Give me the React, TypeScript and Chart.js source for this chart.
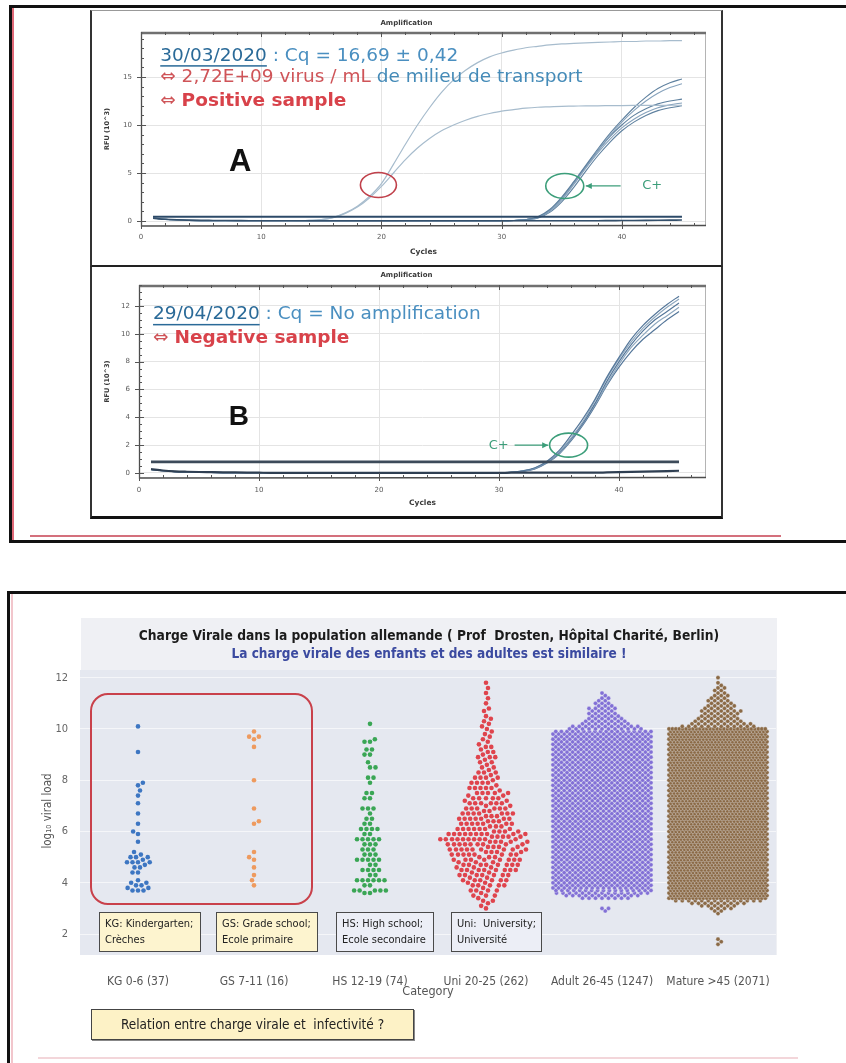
import React, { useEffect, useRef } from 'react';
import { Chart, registerables } from 'chart.js';

Chart.register(...registerables);

// ---------------- Amplification panels (RFU x10^3 by cycle) ----------------
const CYCLES = Array.from({ length: 45 }, (_, i) => i + 1);

const A_SAMPLE_HI = [0.30, 0.18, 0.10, 0.06, 0.04, 0.03, 0.02, 0.02, 0.01, 0.01, 0.01, 0.02, 0.03, 0.06, 0.15, 0.38, 0.85, 1.55, 2.55, 3.9, 5.9, 8.0, 10.0, 11.8, 13.4, 14.7, 15.7, 16.5, 17.1, 17.5, 17.8, 18.05, 18.2, 18.35, 18.45, 18.5, 18.55, 18.6, 18.65, 18.7, 18.7, 18.75, 18.75, 18.8, 18.8];
const A_SAMPLE_LO = [0.30, 0.18, 0.10, 0.06, 0.04, 0.03, 0.02, 0.02, 0.01, 0.01, 0.01, 0.02, 0.03, 0.06, 0.15, 0.36, 0.8, 1.45, 2.4, 3.6, 5.0, 6.4, 7.6, 8.6, 9.4, 10.0, 10.5, 10.9, 11.2, 11.45, 11.6, 11.75, 11.85, 11.9, 11.95, 11.97, 12.0, 12.0, 12.02, 12.03, 12.04, 12.05, 12.05, 12.06, 12.06];
const A_CPOS_BASE = [0.30, 0.18, 0.10, 0.06, 0.04, 0.03, 0.02, 0.02, 0.02, 0.02, 0.02, 0.02, 0.02, 0.02, 0.02, 0.02, 0.02, 0.02, 0.02, 0.02, 0.02, 0.02, 0.02, 0.02, 0.02, 0.02, 0.02, 0.02, 0.02, 0.02, 0.05, 0.15];
const A_CPOS_RISE_1 = [0.45, 1.2, 2.5, 4.1, 5.8, 7.5, 9.1, 10.5, 11.8, 12.9, 13.8, 14.4, 14.8];
const A_CPOS_RISE_2 = [0.4, 1.1, 2.3, 3.9, 5.6, 7.3, 8.9, 10.3, 11.5, 12.5, 13.3, 13.9, 14.3];
const A_CPOS_RISE_3 = [0.4, 1.1, 2.4, 4.0, 5.7, 7.3, 8.8, 10.0, 11.0, 11.7, 12.2, 12.5, 12.7];
const A_CPOS_RISE_4 = [0.35, 1.0, 2.2, 3.8, 5.5, 7.1, 8.5, 9.7, 10.6, 11.3, 11.8, 12.1, 12.3];
const A_CPOS_RISE_5 = [0.3, 0.9, 2.0, 3.5, 5.2, 6.8, 8.2, 9.4, 10.3, 11.0, 11.5, 11.8, 12.0];
const A_NEG = [0.28, 0.18, 0.12, 0.09, 0.07, 0.06, 0.05, 0.04, 0.03, 0.03, 0.03, 0.03, 0.03, 0.03, 0.03, 0.03, 0.03, 0.03, 0.03, 0.03, 0.03, 0.03, 0.03, 0.03, 0.03, 0.03, 0.03, 0.03, 0.03, 0.03, 0.03, 0.03, 0.03, 0.03, 0.03, 0.03, 0.03, 0.03, 0.04, 0.05, 0.06, 0.07, 0.08, 0.09, 0.1];
const A_THRESHOLD = 0.45;

const B_NEG = [0.28, 0.18, 0.12, 0.09, 0.07, 0.06, 0.05, 0.04, 0.03, 0.02, 0.01, 0.01, 0.01, 0.01, 0.01, 0.01, 0.01, 0.01, 0.01, 0.01, 0.01, 0.01, 0.01, 0.01, 0.01, 0.01, 0.01, 0.01, 0.01, 0.01, 0.02, 0.02, 0.02, 0.02, 0.02, 0.02, 0.02, 0.02, 0.04, 0.06, 0.08, 0.10, 0.12, 0.14, 0.16];
const B_CPOS_BASE = [0.25, 0.16, 0.10, 0.07, 0.05, 0.04, 0.03, 0.02, 0.02, 0.02, 0.01, 0.01, 0.01, 0.01, 0.01, 0.01, 0.01, 0.01, 0.01, 0.01, 0.01, 0.01, 0.01, 0.01, 0.01, 0.01, 0.01, 0.01, 0.01, 0.01];
const B_CPOS_RISE_1 = [0.05, 0.16, 0.38, 0.85, 1.6, 2.7, 3.9, 5.3, 6.9, 8.3, 9.6, 10.6, 11.4, 12.1, 12.7];
const B_CPOS_RISE_2 = [0.05, 0.15, 0.35, 0.8, 1.5, 2.5, 3.7, 5.2, 6.8, 8.2, 9.4, 10.4, 11.2, 11.9, 12.5];
const B_CPOS_RISE_3 = [0.05, 0.14, 0.33, 0.78, 1.45, 2.45, 3.6, 5.0, 6.6, 8.0, 9.2, 10.2, 11.0, 11.6, 12.2];
const B_CPOS_RISE_4 = [0.04, 0.13, 0.32, 0.75, 1.4, 2.4, 3.55, 4.9, 6.4, 7.8, 9.0, 9.9, 10.7, 11.3, 11.9];
const B_CPOS_RISE_5 = [0.04, 0.12, 0.3, 0.72, 1.35, 2.3, 3.45, 4.8, 6.3, 7.6, 8.7, 9.6, 10.3, 11.0, 11.6];
const B_THRESHOLD = 0.8;

const AMP_X_TICKS = [0, 10, 20, 30, 40];
const A_Y_TICKS = [0, 5, 10, 15];
const B_Y_TICKS = [0, 2, 4, 6, 8, 10, 12];

// ---------------- Viral load swarm (log10 viral load, [value, count]) ----------------
const SWARM_CATEGORIES = ['KG 0-6 (37)', 'GS 7-11 (16)', 'HS 12-19 (74)', 'Uni 20-25 (262)', 'Adult 26-45 (1247)', 'Mature >45 (2071)'];
const SWARM_Y_TICKS = [2, 4, 6, 8, 10, 12];

const KG_LOADS: [number, number][] = [[10.1, 1], [9.1, 1], [7.9, 1], [7.8, 1], [7.6, 1], [7.4, 1], [7.1, 1], [6.7, 1], [6.3, 1], [6.0, 1], [5.9, 1], [5.6, 1], [5.2, 1], [5.1, 1], [5.0, 3], [4.9, 1], [4.8, 4], [4.7, 1], [4.6, 2], [4.4, 2], [4.1, 1], [4.0, 2], [3.9, 2], [3.8, 2], [3.7, 3]];
const GS_LOADS: [number, number][] = [[9.9, 1], [9.7, 2], [9.6, 1], [9.3, 1], [8.0, 1], [6.9, 1], [6.4, 1], [6.3, 1], [5.2, 1], [5.0, 1], [4.9, 1], [4.6, 1], [4.3, 1], [4.1, 1], [3.9, 1]];
const HS_LOADS: [number, number][] = [[10.2, 1], [9.6, 1], [9.5, 2], [9.2, 2], [9.0, 2], [8.7, 1], [8.5, 2], [8.1, 2], [7.9, 1], [7.5, 2], [7.3, 2], [6.9, 3], [6.7, 1], [6.5, 2], [6.3, 2], [6.1, 4], [5.9, 2], [5.7, 5], [5.5, 3], [5.3, 3], [5.1, 3], [4.9, 5], [4.7, 2], [4.5, 4], [4.3, 2], [4.1, 6], [3.9, 2], [3.7, 5], [3.6, 2]];
const UNI_LOADS: [number, number][] = [[3.0, 1], [3.1, 1], [3.2, 1], [3.3, 2], [3.4, 1], [3.5, 3], [3.6, 1], [3.7, 4], [3.8, 1], [3.9, 5], [4.0, 2], [4.1, 6], [4.2, 2], [4.3, 7], [4.4, 2], [4.5, 8], [4.6, 3], [4.7, 8], [4.8, 3], [4.9, 8], [5.0, 3], [5.1, 8], [5.2, 4], [5.3, 9], [5.4, 4], [5.5, 9], [5.6, 5], [5.7, 10], [5.8, 5], [5.9, 10], [6.0, 4], [6.1, 7], [6.2, 3], [6.3, 7], [6.4, 3], [6.5, 7], [6.6, 3], [6.7, 7], [6.8, 2], [6.9, 6], [7.0, 2], [7.1, 6], [7.2, 2], [7.3, 5], [7.4, 2], [7.5, 5], [7.6, 1], [7.7, 5], [7.8, 1], [7.9, 4], [8.0, 1], [8.1, 4], [8.2, 1], [8.3, 3], [8.4, 1], [8.5, 2], [8.6, 1], [8.7, 2], [8.8, 1], [8.9, 3], [9.0, 1], [9.1, 2], [9.2, 1], [9.3, 2], [9.4, 1], [9.5, 1], [9.6, 1], [9.7, 1], [9.8, 1], [9.9, 1], [10.0, 1], [10.1, 1], [10.2, 1], [10.3, 1], [10.4, 1], [10.5, 1], [10.7, 1], [10.8, 1], [11.0, 1], [11.2, 1], [11.4, 1], [11.6, 1], [11.8, 1]];
// dense groups: counts per 0.1 level starting at *_FROM
const ADULT_FROM = 2.9;
const ADULT_COUNTS = [
  1, 2, 0, 0, 0, 8, 12, 15, 17,
  18, 18, 18, 18, 18, 18, 18, 18, 18, 18,
  18, 18, 18, 18, 18, 18, 18, 18, 18, 18,
  18, 18, 18, 18, 18, 18, 18, 18, 18, 18,
  18, 18, 18, 18, 18, 18, 18, 18, 18, 18,
  18, 18, 18, 18, 18, 18, 18, 18, 18, 18,
  18, 18, 18, 18, 18, 18, 18, 18, 18, 18,
  18, 18,
  12, 11, 8, 7, 6, 5, 5, 4, 5, 3, 3, 2, 2, 1, 1,
];
const MATURE_FROM = 1.6;
const MATURE_COUNTS = [
  1, 1, 1, 0, 0, 0, 0, 0, 0, 0, 0, 0,
  1, 2, 4, 6, 9, 14,
  29, 29, 29, 29, 29, 29, 29, 29, 29, 29, 29, 29, 29, 29, 29, 29, 29, 29, 29, 29,
  29, 29, 29, 29, 29, 29, 29, 29, 29, 29, 29, 29, 29, 29, 29, 29, 29, 29, 29, 29,
  29, 29, 29, 29, 29, 29, 29, 29, 29, 29, 29, 29, 29, 29, 29, 29, 29, 29, 29, 29,
  29, 29, 29, 29, 29, 29, 29,
  12, 10, 8, 7, 6, 6, 7, 5, 5, 4, 4, 3, 3, 2, 2, 2, 1, 1, 0, 1,
];
const SWARM_COLORS = ['#3d76c2', '#ee9a5e', '#3aa655', '#df444d', '#8270d6', '#8b6a46'];

// swarm geometry (pixels)
const SWARM_PX_PER_CAT = 116;
const SWARM_PX_PER_UNIT = 25.64;
const SWARM_DOT_PX = 5.5;
const SWARM_STEP_PX = 6.5;
const SWARM_HALF_PX = 49;

const NARROW = '"Liberation Sans Narrow", "DejaVu Sans Condensed", "Arial Narrow", sans-serif';
const DEJAVU = '"DejaVu Sans", Verdana, sans-serif';

function expandCounts(from: number, counts: number[]): [number, number][] {
  return counts.map((n, i) => [Math.round(from * 10 + i) / 10, n] as [number, number]);
}

// collision beeswarm for the sparse groups
function beeswarm(rows: [number, number][], cat: number) {
  const vals: number[] = [];
  for (const [v, n] of rows) for (let i = 0; i < n; i++) vals.push(v);
  vals.sort((a, b) => a - b);
  const placed: { x: number; y: number }[] = [];
  const d = SWARM_DOT_PX;
  for (const v of vals) {
    const yp = v * SWARM_PX_PER_UNIT;
    const iv: [number, number][] = [];
    for (let j = placed.length - 1; j >= 0; j--) {
      const dy = yp - placed[j].y;
      if (dy >= d) break;
      const dx = Math.sqrt(d * d - dy * dy);
      iv.push([placed[j].x - dx, placed[j].x + dx]);
    }
    const cands = [0];
    for (const [a, b] of iv) cands.push(a, b);
    const preferPos = placed.length % 2 === 0;
    cands.sort((p, q) => {
      const diff = Math.abs(p) - Math.abs(q);
      if (Math.abs(diff) > 1e-6) return diff;
      return preferPos ? q - p : p - q;
    });
    let xp = 0;
    for (const c of cands) {
      if (iv.every(([a, b]) => !(c > a + 1e-6 && c < b - 1e-6))) { xp = c; break; }
    }
    placed.push({ x: xp, y: yp });
  }
  return placed.map((p) => ({
    x: cat + Math.max(-SWARM_HALF_PX, Math.min(SWARM_HALF_PX, p.x)) / SWARM_PX_PER_CAT,
    y: p.y / SWARM_PX_PER_UNIT,
  }));
}

// packed rows for the saturated groups
function packedRows(rows: [number, number][], cat: number) {
  const pts: { x: number; y: number }[] = [];
  for (const [v, n] of rows) {
    if (!n) continue;
    const odd = Math.round(v * 10) % 2 !== 0;
    let offs: number[] = [];
    if (odd) {
      for (let k = 0; offs.length < n; k++) {
        offs.push((k + 0.5) * SWARM_STEP_PX);
        if (offs.length < n) offs.push(-(k + 0.5) * SWARM_STEP_PX);
      }
    } else {
      offs.push(0);
      for (let k = 1; offs.length < n; k++) {
        offs.push(k * SWARM_STEP_PX);
        if (offs.length < n) offs.push(-k * SWARM_STEP_PX);
      }
    }
    const ext = Math.max(...offs.map(Math.abs));
    if (ext > SWARM_HALF_PX) {
      const step = (2 * SWARM_HALF_PX) / (n - 0.5);
      offs = [];
      for (let i = 0; i < n; i++) offs.push(-SWARM_HALF_PX + (i + (odd ? 0.5 : 0)) * step);
    }
    for (const o of offs) pts.push({ x: cat + o / SWARM_PX_PER_CAT, y: v });
  }
  return pts;
}

type Seg = { text: string; color: string; bold?: boolean; underline?: boolean };

function drawSegs(ctx: CanvasRenderingContext2D, x: number, y: number, size: number, segs: Seg[]) {
  let cx = x;
  ctx.textAlign = 'left';
  ctx.textBaseline = 'middle';
  for (const s of segs) {
    ctx.font = `${s.bold ? 'bold ' : ''}${size}px ${DEJAVU}`;
    ctx.fillStyle = s.color;
    ctx.fillText(s.text, cx, y);
    const w = ctx.measureText(s.text).width;
    if (s.underline) ctx.fillRect(cx, y + size * 0.5, w, 1.5);
    cx += w;
  }
}

function ellipse(ctx: CanvasRenderingContext2D, cx: number, cy: number, rx: number, ry: number, color: string) {
  ctx.beginPath();
  ctx.ellipse(cx, cy, rx, ry, 0, 0, Math.PI * 2);
  ctx.strokeStyle = color;
  ctx.lineWidth = 1.6;
  ctx.stroke();
}

function arrow(ctx: CanvasRenderingContext2D, x1: number, y1: number, x2: number, y2: number, color: string) {
  ctx.strokeStyle = color;
  ctx.fillStyle = color;
  ctx.lineWidth = 1.2;
  ctx.beginPath();
  ctx.moveTo(x1, y1);
  ctx.lineTo(x2, y2);
  ctx.stroke();
  const dir = Math.sign(x2 - x1);
  ctx.beginPath();
  ctx.moveTo(x2, y2);
  ctx.lineTo(x2 - dir * 6, y2 - 3);
  ctx.lineTo(x2 - dir * 6, y2 + 3);
  ctx.closePath();
  ctx.fill();
}

function lineDs(values: number[], color: string, width: number) {
  return {
    data: CYCLES.map((c, i) => ({ x: c, y: values[i] })),
    borderColor: color,
    borderWidth: width,
    pointRadius: 0,
    cubicInterpolationMode: 'monotone',
    fill: false,
  };
}

function thresholdDs(value: number, color: string, width: number) {
  return {
    data: [{ x: CYCLES[0], y: value }, { x: CYCLES[CYCLES.length - 1], y: value }],
    borderColor: color,
    borderWidth: width,
    pointRadius: 0,
    fill: false,
  };
}

type AmpSpec = {
  datasets: any[];
  xMax: number;
  yMin: number;
  yMax: number;
  yTicks: number[];
  yMinor: number;
  padTop: number;
  yWidth: number;
  titleY: number;
  xTickPad: number;
  xTitlePad: number;
  annotate: (ctx: CanvasRenderingContext2D, x: any, y: any) => void;
};

function makeAmpChart(canvas: HTMLCanvasElement, spec: AmpSpec) {
  const framePlugin = {
    id: 'ampFrame',
    afterDatasetsDraw(chart: any) {
      const { ctx, chartArea: a, scales } = chart;
      const x = scales.x;
      const y = scales.y;
      ctx.save();
      ctx.strokeStyle = '#b4b4b4';
      ctx.lineWidth = 1;
      ctx.beginPath();
      ctx.moveTo(a.right - 0.5, a.top);
      ctx.lineTo(a.right - 0.5, a.bottom);
      ctx.stroke();
      ctx.strokeStyle = '#707070';
      ctx.lineWidth = 2.4;
      ctx.beginPath();
      ctx.moveTo(a.left, a.top + 1);
      ctx.lineTo(a.right, a.top + 1);
      ctx.stroke();
      ctx.strokeStyle = '#4d4d4d';
      ctx.lineWidth = 1.3;
      ctx.beginPath();
      ctx.moveTo(a.left + 0.5, a.top);
      ctx.lineTo(a.left + 0.5, a.bottom);
      ctx.lineTo(a.right, a.bottom - 0.5);
      ctx.stroke();
      ctx.lineWidth = 1;
      ctx.strokeStyle = '#555';
      ctx.beginPath();
      for (let c = 0; c <= spec.xMax; c += 2) {
        const px = Math.round(x.getPixelForValue(c)) + 0.5;
        const major = c % 10 === 0;
        ctx.moveTo(px, a.bottom - (major ? 5 : 3));
        ctx.lineTo(px, a.bottom + (major ? 3 : 0));
        ctx.moveTo(px, a.top);
        ctx.lineTo(px, a.top + (major ? 5 : 3));
      }
      for (let v = Math.ceil(spec.yMin / spec.yMinor) * spec.yMinor; v <= spec.yMax; v += spec.yMinor) {
        const py = Math.round(y.getPixelForValue(v)) + 0.5;
        const major = spec.yTicks.includes(Math.round(v * 100) / 100);
        ctx.moveTo(a.left - (major ? 4 : 0), py);
        ctx.lineTo(a.left + (major ? 5 : 3), py);
      }
      ctx.stroke();
      ctx.font = `bold 7px ${DEJAVU}`;
      ctx.fillStyle = '#3a3a3a';
      ctx.textAlign = 'center';
      ctx.textBaseline = 'middle';
      ctx.fillText('Amplification', chart.width / 2, spec.titleY);
      spec.annotate(ctx, x, y);
      ctx.restore();
    },
  };

  return new Chart(canvas, {
    type: 'line',
    data: { datasets: spec.datasets },
    options: {
      animation: false,
      responsive: false,
      events: [],
      layout: { padding: { top: spec.padTop, right: 15, left: 0, bottom: 0 } },
      plugins: { legend: { display: false }, tooltip: { enabled: false } },
      scales: {
        x: {
          type: 'linear',
          min: 0,
          max: spec.xMax,
          afterBuildTicks: (s: any) => { s.ticks = AMP_X_TICKS.map((v) => ({ value: v })); },
          afterFit: (s: any) => { s.height = 38; },
          grid: { color: '#e4e4e4', drawTicks: false },
          border: { display: false },
          ticks: { padding: spec.xTickPad, color: '#5a5a5a', font: { family: DEJAVU, size: 7 }, maxRotation: 0, autoSkip: false },
          title: { display: true, text: 'Cycles', color: '#3a3a3a', font: { family: DEJAVU, size: 7.5, weight: 'bold' }, padding: { top: 0, bottom: spec.xTitlePad } },
        },
        y: {
          type: 'linear',
          min: spec.yMin,
          max: spec.yMax,
          afterBuildTicks: (s: any) => { s.ticks = spec.yTicks.map((v) => ({ value: v })); },
          afterFit: (s: any) => { s.width = spec.yWidth; },
          grid: { color: '#e4e4e4', drawTicks: false },
          border: { display: false },
          ticks: { padding: 9, color: '#5a5a5a', font: { family: DEJAVU, size: 7 } },
          title: { display: true, text: 'RFU (10^3)', color: '#3a3a3a', font: { family: DEJAVU, size: 6.5, weight: 'bold' }, padding: { top: 11, bottom: 0 } },
        },
      },
    },
    plugins: [framePlugin],
  } as any);
}

const ANNOT_SIZE = 18.5;

function makeChartA(canvas: HTMLCanvasElement) {
  const cpos = [A_CPOS_RISE_1, A_CPOS_RISE_2, A_CPOS_RISE_3, A_CPOS_RISE_4, A_CPOS_RISE_5].map((r) => [...A_CPOS_BASE, ...r]);
  const datasets = [
    thresholdDs(A_THRESHOLD, '#2c4a68', 2),
    lineDs(A_NEG, '#34506c', 1.6),
    lineDs(A_SAMPLE_HI, '#a7bccd', 1.2),
    lineDs(A_SAMPLE_LO, '#a7bccd', 1.2),
    ...cpos.map((c, i) => lineDs(c, i % 2 ? '#86a2bc' : '#5f819f', 1.1)),
  ];
  return makeAmpChart(canvas, {
    datasets,
    xMax: 47,
    yMin: -0.52,
    yMax: 19.69,
    yTicks: A_Y_TICKS,
    yMinor: 1,
    padTop: 21,
    yWidth: 49,
    titleY: 12,
    xTickPad: 7,
    xTitlePad: 7.5,
    annotate: (ctx, x, y) => {
      const red = '#cf5458';
      const blue = '#4a8fc0';
      drawSegs(ctx, x.getPixelForValue(1.6), y.getPixelForValue(17.2), ANNOT_SIZE, [
        { text: '30/03/2020', color: '#2a6a98', underline: true },
        { text: ' : Cq = 16,69 ± 0,42', color: blue },
      ]);
      drawSegs(ctx, x.getPixelForValue(1.6), y.getPixelForValue(15.0), ANNOT_SIZE, [
        { text: '⇔ 2,72E+09 virus / mL', color: red },
        { text: ' de milieu de transport', color: '#458bb8' },
      ]);
      drawSegs(ctx, x.getPixelForValue(1.6), y.getPixelForValue(12.5), ANNOT_SIZE, [
        { text: '⇔ ', color: red },
        { text: 'Positive sample', color: '#d8424a', bold: true },
      ]);
      ctx.font = 'bold 31px "Liberation Sans", Arial, sans-serif';
      ctx.fillStyle = '#111';
      ctx.textAlign = 'center';
      ctx.textBaseline = 'middle';
      ctx.fillText('A', x.getPixelForValue(8.25), y.getPixelForValue(6.15));
      ellipse(ctx, x.getPixelForValue(19.75), y.getPixelForValue(3.75), 18, 12.5, '#c0414b');
      const green = '#3c9e7a';
      ellipse(ctx, x.getPixelForValue(35.25), y.getPixelForValue(3.65), 19, 12.5, green);
      arrow(ctx, x.getPixelForValue(39.9), y.getPixelForValue(3.65), x.getPixelForValue(37.0), y.getPixelForValue(3.65), green);
      ctx.font = `13px ${DEJAVU}`;
      ctx.fillStyle = green;
      ctx.textAlign = 'left';
      ctx.fillText('C+', x.getPixelForValue(41.7), y.getPixelForValue(3.65));
    },
  });
}

function makeChartB(canvas: HTMLCanvasElement) {
  const cpos = [B_CPOS_RISE_1, B_CPOS_RISE_2, B_CPOS_RISE_3, B_CPOS_RISE_4, B_CPOS_RISE_5].map((r) => [...B_CPOS_BASE, ...r]);
  const datasets = [
    thresholdDs(B_THRESHOLD, '#3d4b5a', 2.6),
    lineDs(B_NEG, '#2f3f52', 2.2),
    ...cpos.map((c, i) => lineDs(c, i % 2 ? '#8ea8bf' : '#55779a', 1.2)),
  ];
  return makeAmpChart(canvas, {
    datasets,
    xMax: 47.25,
    yMin: -0.36,
    yMax: 13.5,
    yTicks: B_Y_TICKS,
    yMinor: 0.5,
    padTop: 18,
    yWidth: 47,
    titleY: 8,
    xTickPad: 8,
    xTitlePad: 8.5,
    annotate: (ctx, x, y) => {
      drawSegs(ctx, x.getPixelForValue(1.17), y.getPixelForValue(11.37), ANNOT_SIZE, [
        { text: '29/04/2020', color: '#2a6a98', underline: true },
        { text: ' : Cq = No amplification', color: '#4a8fc0' },
      ]);
      drawSegs(ctx, x.getPixelForValue(1.17), y.getPixelForValue(9.71), ANNOT_SIZE, [
        { text: '⇔ ', color: '#cf5458' },
        { text: 'Negative sample', color: '#d8424a', bold: true },
      ]);
      ctx.font = 'bold 28px "Liberation Sans", Arial, sans-serif';
      ctx.fillStyle = '#111';
      ctx.textAlign = 'center';
      ctx.textBaseline = 'middle';
      ctx.fillText('B', x.getPixelForValue(8.33), y.getPixelForValue(4.03));
      const green = '#3c9e7a';
      ellipse(ctx, x.getPixelForValue(35.8), y.getPixelForValue(2.0), 19, 12, green);
      arrow(ctx, x.getPixelForValue(31.3), y.getPixelForValue(2.0), x.getPixelForValue(34.1), y.getPixelForValue(2.0), green);
      ctx.font = `13px ${DEJAVU}`;
      ctx.fillStyle = green;
      ctx.textAlign = 'right';
      ctx.fillText('C+', x.getPixelForValue(30.8), y.getPixelForValue(2.0));
    },
  });
}

function makeSwarm(canvas: HTMLCanvasElement) {
  const sparse = [KG_LOADS, GS_LOADS, HS_LOADS, UNI_LOADS];
  const dense = [expandCounts(ADULT_FROM, ADULT_COUNTS), expandCounts(MATURE_FROM, MATURE_COUNTS)];
  const sets = [
    ...sparse.map((g, i) => ({ data: beeswarm(g, i), radius: 2.3, border: 0 })),
    ...dense.map((g, i) => ({ data: packedRows(g, i + 4), radius: 2.1, border: 0.6 })),
  ];
  const bgPlugin = {
    id: 'swarmBg',
    beforeDraw(chart: any) {
      const { ctx, chartArea: a } = chart;
      ctx.save();
      ctx.fillStyle = '#e5e8f0';
      ctx.fillRect(a.left, a.top, a.right - a.left, a.bottom - a.top + 3);
      ctx.restore();
    },
  };
  return new Chart(canvas, {
    type: 'scatter',
    data: {
      datasets: sets.map((s, i) => ({
        data: s.data,
        backgroundColor: SWARM_COLORS[i],
        borderColor: 'rgba(238,240,246,0.55)',
        borderWidth: s.border,
        pointRadius: s.radius,
        pointHoverRadius: s.radius,
      })),
    },
    options: {
      animation: false,
      responsive: false,
      events: [],
      layout: { padding: { top: 70, right: 24, left: 0, bottom: 0 } },
      plugins: { legend: { display: false }, tooltip: { enabled: false } },
      scales: {
        x: {
          type: 'linear',
          min: -0.5,
          max: 5.5,
          afterBuildTicks: (s: any) => { s.ticks = SWARM_CATEGORIES.map((_, i) => ({ value: i })); },
          afterFit: (s: any) => { s.height = 68; },
          grid: { display: false },
          border: { display: false },
          ticks: {
            padding: 15,
            color: '#555',
            font: { family: NARROW, size: 12 },
            maxRotation: 0,
            autoSkip: false,
            callback: (v: any) => SWARM_CATEGORIES[v] ?? '',
          },
          title: { display: true, text: 'Category', color: '#555', font: { family: NARROW, size: 12.5 }, padding: { top: 0, bottom: 21 } },
        },
        y: {
          type: 'linear',
          min: 1.3,
          max: 12.3,
          afterBuildTicks: (s: any) => { s.ticks = SWARM_Y_TICKS.map((v) => ({ value: v })); },
          afterFit: (s: any) => { s.width = 60; },
          grid: { color: 'rgba(255,255,255,0.6)', drawTicks: false },
          border: { display: false },
          ticks: { padding: 12, color: '#666', font: { family: NARROW, size: 11 } },
          title: { display: true, text: 'log₁₀ viral load', color: '#555', font: { family: NARROW, size: 11.5 }, padding: { top: 21, bottom: 0 } },
        },
      },
    },
    plugins: [bgPlugin],
  } as any);
}

const noteBox = (bg: string): React.CSSProperties => ({
  position: 'absolute',
  top: 912,
  height: 40,
  boxSizing: 'border-box',
  border: '1px solid #4a4a4a',
  background: bg,
  padding: '3px 0 0 5px',
  font: `11px ${NARROW}`,
  lineHeight: '16px',
  color: '#222',
});

export default function App() {
  const aRef = useRef<HTMLCanvasElement>(null);
  const bRef = useRef<HTMLCanvasElement>(null);
  const sRef = useRef<HTMLCanvasElement>(null);

  useEffect(() => {
    const charts = [makeChartA(aRef.current!), makeChartB(bRef.current!), makeSwarm(sRef.current!)];
    return () => charts.forEach((c) => c.destroy());
  }, []);

  return (
    <div style={{ position: 'absolute', left: 0, top: 0, width: 846, height: 1063, overflow: 'hidden', background: '#fff' }}>
      {/* top frame */}
      <div style={{ position: 'absolute', left: 9, top: 5, width: 900, height: 538, boxSizing: 'border-box', border: '3px solid #111' }} />
      <div style={{ position: 'absolute', left: 12, top: 8, width: 2, height: 532, background: '#e06a78' }} />
      <div style={{ position: 'absolute', left: 30, top: 535, width: 751, height: 1.5, background: '#d4707c' }} />
      {/* chart boxes */}
      <div style={{ position: 'absolute', left: 90, top: 10, width: 633, height: 257, boxSizing: 'border-box', borderTop: '1px solid #999', borderLeft: '2px solid #333', borderRight: '2px solid #333', borderBottom: '2px solid #222' }} />
      <div style={{ position: 'absolute', left: 90, top: 267, width: 633, height: 252, boxSizing: 'border-box', borderLeft: '2px solid #333', borderRight: '2px solid #333', borderBottom: '3px solid #111' }} />
      <canvas ref={aRef} width={629} height={253} style={{ position: 'absolute', left: 92, top: 11, width: 629, height: 253 }} />
      <canvas ref={bRef} width={629} height={249} style={{ position: 'absolute', left: 92, top: 267, width: 629, height: 249 }} />

      {/* bottom frame */}
      <div style={{ position: 'absolute', left: 7, top: 591, width: 900, height: 520, boxSizing: 'border-box', border: '3px solid #111' }} />
      <div style={{ position: 'absolute', left: 11, top: 594, width: 1.5, height: 469, background: '#f2c6cc' }} />
      <div style={{ position: 'absolute', left: 38, top: 1057, width: 760, height: 1.5, background: '#f3d6da' }} />
      <div style={{ position: 'absolute', left: 81, top: 618, width: 696, height: 337, background: '#eff0f4' }} />
      <canvas ref={sRef} width={780} height={420} style={{ position: 'absolute', left: 20, top: 600, width: 780, height: 420 }} />
      <div style={{ position: 'absolute', left: 81, top: 626, width: 696, textAlign: 'center', font: `bold 13.7px ${NARROW}`, lineHeight: '18px', color: '#1b1b1b' }}>
        Charge Virale dans la population allemande ( Prof&nbsp; Drosten, Hôpital Charité, Berlin)
      </div>
      <div style={{ position: 'absolute', left: 81, top: 644, width: 696, textAlign: 'center', font: `bold 13.5px ${NARROW}`, lineHeight: '18px', color: '#3b4aa0' }}>
        La charge virale des enfants et des adultes est similaire !
      </div>
      <div style={{ position: 'absolute', left: 90, top: 693, width: 223, height: 212, boxSizing: 'border-box', border: '2.5px solid #c9414b', borderRadius: 18 }} />
      <div style={{ ...noteBox('#fdf4cf'), left: 99, width: 102 }}>KG: Kindergarten;<br />Crèches</div>
      <div style={{ ...noteBox('#fdf4cf'), left: 216, width: 102 }}>GS: Grade school;<br />Ecole primaire</div>
      <div style={{ ...noteBox('#eceef6'), left: 336, width: 98 }}>HS: High school;<br />Ecole secondaire</div>
      <div style={{ ...noteBox('#eceef6'), left: 451, width: 91 }}>Uni:&nbsp; University;<br />Université</div>
      <div style={{ position: 'absolute', left: 91, top: 1009, width: 323, height: 31, boxSizing: 'border-box', border: '1px solid #444', boxShadow: '1px 1px 0 #888', background: '#fdf2c6', textAlign: 'center', font: `13.5px ${NARROW}`, lineHeight: '29px', color: '#222' }}>
        Relation entre charge virale et&nbsp; infectivité ?
      </div>
    </div>
  );
}
